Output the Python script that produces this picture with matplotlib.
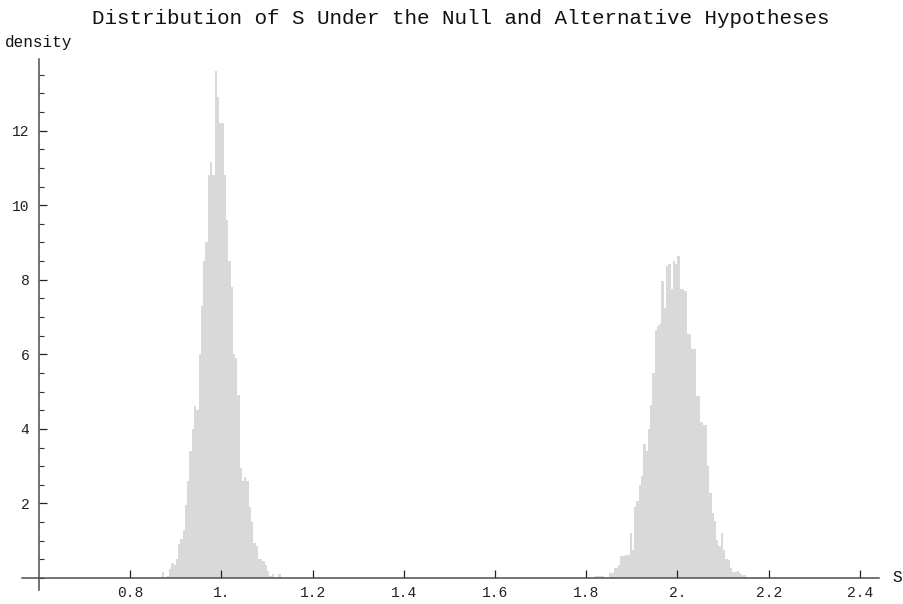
import numpy as np
import matplotlib
matplotlib.use("Agg")
import matplotlib.pyplot as plt
from matplotlib.ticker import MultipleLocator, FixedLocator

# ---- data (densities) ----
bin_width = 0.005
null_start = 0.870
null_density = [0.15, 0.0, 0.05, 0.25, 0.4, 0.35, 0.5, 0.9, 1.05, 1.3,
                1.95, 2.6, 3.4, 4.0, 4.6, 4.5, 6.0, 7.3, 8.5, 9.0,
                10.8, 11.15, 10.8, 13.6, 12.9, 12.2, 12.2, 10.8, 9.6, 8.5,
                7.8, 6.0, 5.9, 4.9, 2.95, 2.6, 2.7, 2.6, 1.9, 1.5,
                0.95, 0.85, 0.5, 0.5, 0.45, 0.35, 0.2, 0.05, 0.1, 0.0,
                0.0, 0.1]
alt_start = 1.820
alt_density = [0.05, 0.05, 0.05, 0.05, 0.0, 0.0, 0.13, 0.13, 0.27, 0.27,
               0.36, 0.58, 0.6, 0.63, 0.63, 1.2, 0.75, 1.9, 2.06, 2.5,
               2.73, 3.6, 3.4, 4.0, 4.65, 5.5, 6.65, 6.75, 6.8, 7.97,
               7.25, 8.36, 8.41, 7.75, 8.5, 8.41, 8.64, 7.75, 7.75, 7.7,
               6.55, 6.55, 6.14, 6.14, 4.88, 4.88, 4.18, 4.1, 4.1, 3.0,
               2.28, 1.74, 1.52, 1.03, 0.85, 1.21, 0.76, 0.51, 0.49, 0.27,
               0.15, 0.15, 0.19, 0.13, 0.09, 0.09, 0.0, 0.0, 0.0, 0.04,
               0.04, 0.04, 0.04]

x_ticks = [0.8, 1.0, 1.2, 1.4, 1.6, 1.8, 2.0, 2.2, 2.4]
x_tick_labels = ["0.8", "1.", "1.2", "1.4", "1.6", "1.8", "2.", "2.2", "2.4"]
y_ticks = [2, 4, 6, 8, 10, 12]
y_tick_labels = ["2", "4", "6", "8", "10", "12"]

title = "Distribution of S Under the Null and Alternative Hypotheses"
x_label = "S"
y_label = "density"

# ---- figure ----
W, H = 904, 604
fig = plt.figure(figsize=(W / 100, H / 100), dpi=100)
font = "Liberation Mono"

# pixel geometry of the axes box
ax_left_px, ax_right_px = 22, 879
ax_top_px, ax_bottom_px = 59, 590
ax = fig.add_axes([ax_left_px / W, (H - ax_bottom_px) / H,
                   (ax_right_px - ax_left_px) / W,
                   (ax_bottom_px - ax_top_px) / H])

bar_color = "#d9d9d9"
null_edges = null_start + bin_width * np.arange(len(null_density))
alt_edges = alt_start + bin_width * np.arange(len(alt_density))
ax.bar(null_edges, null_density, width=bin_width, align="edge",
       color=bar_color, linewidth=0, zorder=1)
ax.bar(alt_edges, alt_density, width=bin_width, align="edge",
       color=bar_color, linewidth=0, zorder=1)

ax.set_xlim(0.5627, 2.442)
ax.set_ylim(-0.322, 13.92)

for s in ["top", "right"]:
    ax.spines[s].set_visible(False)
ax.spines["left"].set_position(("data", 0.6))
ax.spines["bottom"].set_position(("data", 0.0))
for s in ["left", "bottom"]:
    ax.spines[s].set_color("#4d4d4d")
    ax.spines[s].set_linewidth(1.1)
    ax.spines[s].set_zorder(3)

ax.xaxis.set_major_locator(FixedLocator(x_ticks))
ax.set_xticklabels(x_tick_labels)
ax.yaxis.set_major_locator(FixedLocator(y_ticks))
ax.set_yticklabels(y_tick_labels)
ax.yaxis.set_minor_locator(MultipleLocator(0.5))

ax.tick_params(axis="x", which="major", direction="in", length=6, width=0.9,
               color="#222222", pad=6, labelsize=10.5, labelcolor="#222222")
ax.tick_params(axis="y", which="major", direction="in", length=6, width=0.9,
               color="#222222", pad=7, labelsize=10.5, labelcolor="#222222")
ax.tick_params(axis="y", which="minor", direction="in", length=3.5, width=0.8,
               color="#333333")
for lab in ax.get_xticklabels() + ax.get_yticklabels():
    lab.set_fontfamily(font)

fig.text(0.51, 1 - 18 / H, title, ha="center", va="center",
         fontsize=15, family=font, color="#111111")
fig.text(5 / W, 1 - 42 / H, y_label, ha="left", va="center",
         fontsize=11.5, family=font, color="#111111")
fig.text(897 / W, 1 - 578 / H, x_label, ha="center", va="center",
         fontsize=11.5, family=font, color="#111111")

fig.savefig("out.png", dpi=100)
